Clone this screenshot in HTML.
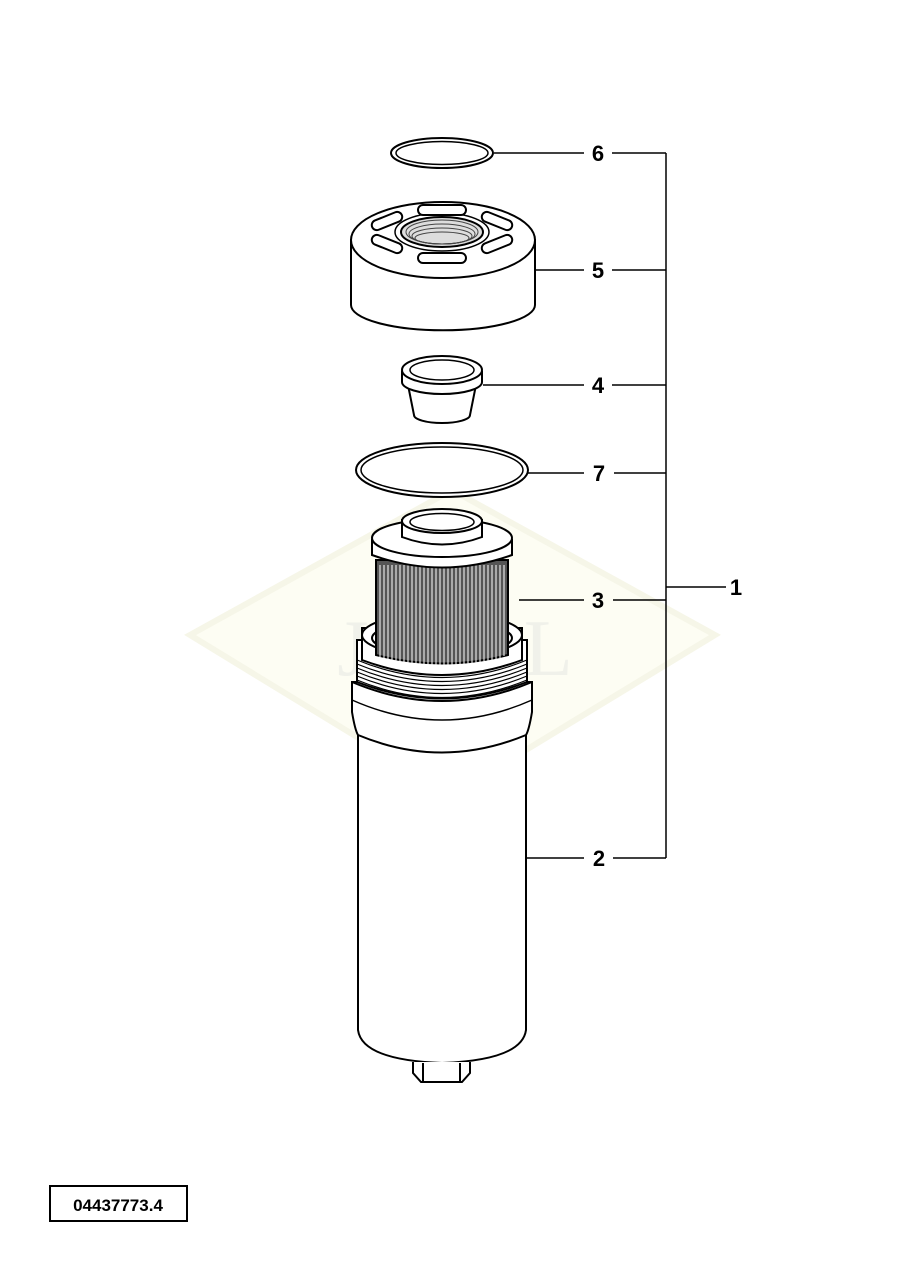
<!DOCTYPE html>
<html><head><style>
html,body{margin:0;padding:0;background:#fff;}
svg{display:block;}
text{font-family:"Liberation Sans",sans-serif;font-weight:bold;fill:#000;}
</style></head><body>
<svg width="905" height="1281" viewBox="0 0 905 1281" xmlns="http://www.w3.org/2000/svg">
<!-- watermark -->
<polygon points="190,635 452,490 715,635 452,795" fill="#fdfdf3" stroke="#f6f6e8" stroke-width="6"/>
<text x="455" y="675" font-size="80" text-anchor="middle" style="fill:#f0f1ea;font-family:'Liberation Serif',serif;font-weight:normal">JA&#160;&#160;OL</text>

<g fill="#fff" stroke="#000" stroke-width="2">
<!-- 6 o-ring -->
<ellipse cx="442" cy="153" rx="51" ry="15"/>
<ellipse cx="442" cy="153" rx="46" ry="11.5" stroke-width="1.5"/>

<!-- 5 cap -->
<path d="M351,240 L351,305 A91,25 0 0 0 535,305 L535,240 Z"/>
<ellipse cx="443" cy="240" rx="92" ry="38"/>
<ellipse cx="442" cy="232" rx="47" ry="19" stroke-width="1.5"/>
<ellipse cx="442" cy="232" rx="41" ry="15" fill="#ddd"/>
<g fill="none" stroke-width="1" stroke="#444">
<ellipse cx="442" cy="232" rx="36" ry="12"/><ellipse cx="442" cy="234" rx="33" ry="10"/><ellipse cx="442" cy="236" rx="30" ry="8"/><ellipse cx="442" cy="238" rx="27" ry="6"/></g>
<rect x="418" y="205" width="48" height="10" rx="5"/>
<rect x="418" y="253" width="48" height="10" rx="5"/>
<rect x="371" y="216" width="32" height="10" rx="5" transform="rotate(-22 387 221)"/>
<rect x="371" y="239" width="32" height="10" rx="5" transform="rotate(22 387 244)"/>
<rect x="481" y="216" width="32" height="10" rx="5" transform="rotate(22 497 221)"/>
<rect x="481" y="239" width="32" height="10" rx="5" transform="rotate(-22 497 244)"/>

<!-- 4 insert -->
<path d="M408,385 L414,415 A28,8 0 0 0 470,415 L476,385 Z"/>
<path d="M402,372 L402,382 A40,12 0 0 0 482,382 L482,372 Z"/>
<ellipse cx="442" cy="370" rx="40" ry="14"/>
<ellipse cx="442" cy="370" rx="32" ry="10" stroke-width="1.5"/>

<!-- 7 o-ring -->
<ellipse cx="442" cy="470" rx="86" ry="27"/>
<ellipse cx="442" cy="470" rx="81" ry="23" stroke-width="1.5"/>

<!-- 2 bowl -->
<path d="M358,730 L358,1030 Q362,1060 442,1063 Q522,1060 526,1030 L526,730 Z"/>
<path d="M413,1062 L413,1073 L421,1082 L462,1082 L470,1073 L470,1062" />
<line x1="423" y1="1063" x2="423" y2="1082"/><line x1="460" y1="1063" x2="460" y2="1082"/>
<path d="M352,682 L352,712 Q355,730 358,735 Q442,770 526,735 Q529,730 532,712 L532,682 Z"/>
<path d="M352,700 Q442,740 532,700" fill="none" stroke-width="1.5"/>
<path d="M357,640 L357,682 Q442,715 527,682 L527,640 Z"/>
<g fill="none" stroke-width="1.2">
<path d="M357,660 Q442,695 527,660"/><path d="M357,664 Q442,699 527,664"/><path d="M357,668 Q442,703 527,668"/><path d="M357,672 Q442,707 527,672"/><path d="M357,676 Q442,711 527,676"/><path d="M357,680 Q442,715 527,680"/></g>
<path d="M352,682 Q442,720 532,682" fill="none"/>
<path d="M362,628 L362,660 Q442,690 522,660 L522,628 Z"/>
<ellipse cx="442" cy="635" rx="80" ry="22"/>
<ellipse cx="442" cy="638" rx="70" ry="17"/>

<!-- 3 filter element -->
<path d="M376,560 L376,655 Q442,672 508,655 L508,560 Z" fill="#555"/>
<g stroke="#fff" stroke-width="1">
<path d="M380,565 V658 M384,565 V660 M388,565 V661 M392,565 V662 M396,565 V663 M400,565 V664 M404,565 V664 M408,565 V665 M412,565 V665 M416,565 V666 M420,565 V666 M424,565 V666 M428,565 V667 M432,565 V667 M436,565 V667 M440,565 V667 M444,565 V667 M448,565 V667 M452,565 V667 M456,565 V666 M460,565 V666 M464,565 V666 M468,565 V665 M472,565 V665 M476,565 V664 M480,565 V664 M484,565 V663 M488,565 V662 M492,565 V661 M496,565 V660 M500,565 V658 M504,565 V656"/></g>
<path d="M372,540 L372,555 Q442,580 512,555 L512,540 Z"/>
<ellipse cx="442" cy="538" rx="70" ry="19"/>
<path d="M402,520 L402,537 Q442,552 482,537 L482,520 Z"/>
<ellipse cx="442" cy="521" rx="40" ry="12"/>
<ellipse cx="442" cy="522" rx="32" ry="8.5" stroke-width="1.5"/>
</g>

<!-- leaders -->
<g stroke="#000" stroke-width="1.5" fill="none">
<line x1="494" y1="153" x2="584" y2="153"/><line x1="612" y1="153" x2="666" y2="153"/>
<line x1="535" y1="270" x2="584" y2="270"/><line x1="612" y1="270" x2="666" y2="270"/>
<line x1="483" y1="385" x2="584" y2="385"/><line x1="612" y1="385" x2="666" y2="385"/>
<line x1="528" y1="473" x2="584" y2="473"/><line x1="614" y1="473" x2="666" y2="473"/>
<line x1="519" y1="600" x2="584" y2="600"/><line x1="613" y1="600" x2="666" y2="600"/>
<line x1="527" y1="858" x2="584" y2="858"/><line x1="613" y1="858" x2="666" y2="858"/>
<line x1="666" y1="153" x2="666" y2="858"/>
<line x1="666" y1="587" x2="726" y2="587"/>
</g>
<g font-size="22" text-anchor="middle">
<text x="598" y="161">6</text><text x="598" y="278">5</text><text x="598" y="393">4</text>
<text x="599" y="481">7</text><text x="598" y="608">3</text><text x="599" y="866">2</text>
<text x="736" y="595">1</text>
</g>
<rect x="50" y="1186" width="137" height="35" fill="none" stroke="#000" stroke-width="2"/>
<text x="118" y="1211" font-size="17" text-anchor="middle">04437773.4</text>
</svg>
</body></html>
